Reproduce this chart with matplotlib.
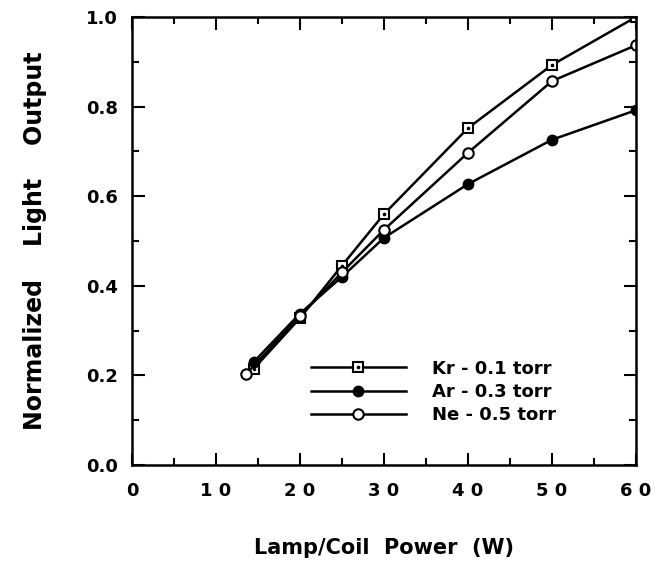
import numpy as np
import matplotlib.pyplot as plt
from matplotlib.ticker import MultipleLocator

plt.rcParams['font.family'] = ['DejaVu Sans']
plt.rcParams['font.weight'] = 'bold'

# Lamp/coil power (W) and normalized light output
kr_power = [14.5, 20, 25, 30, 40, 50, 60]
kr_light = [0.215, 0.328, 0.445, 0.560, 0.752, 0.893, 1.0]

ar_power = [14.5, 20, 25, 30, 40, 50, 60]
ar_light = [0.230, 0.338, 0.420, 0.507, 0.627, 0.726, 0.792]

ne_power = [13.6, 20, 25, 30, 40, 50, 60]
ne_light = [0.203, 0.332, 0.430, 0.525, 0.697, 0.857, 0.937]

x_ticks = [0, 10, 20, 30, 40, 50, 60]
x_ticklabels = ['0', '1 0', '2 0', '3 0', '4 0', '5 0', '6 0']
y_ticks = [0.0, 0.2, 0.4, 0.6, 0.8, 1.0]

fig = plt.figure(figsize=(6.55, 5.67), dpi=100)
ax = fig.add_axes([0.2015, 0.180, 0.7695, 0.790])

lw = 1.8
kr_line, = ax.plot(kr_power, kr_light, color='black', lw=lw, marker='s', ms=7.5,
                   mfc='white', mec='black', mew=1.5)
# little dot in the middle of the squares
kr_dot, = ax.plot(kr_power, kr_light, ls='none', marker='o', ms=1.6,
                  color='black')
ar_line, = ax.plot(ar_power, ar_light, color='black', lw=lw, marker='o', ms=7.5,
                   mfc='black', mec='black')
ne_line, = ax.plot(ne_power, ne_light, color='black', lw=lw, marker='o', ms=7.5,
                   mfc='white', mec='black', mew=1.5)

ax.set_xlim(0, 60)
ax.set_ylim(0, 1.0)
ax.set_xticks(x_ticks)
ax.set_xticklabels(x_ticklabels)
ax.set_yticks(y_ticks)
ax.set_yticklabels(['%.1f' % v for v in y_ticks])
ax.xaxis.set_minor_locator(MultipleLocator(5))
ax.yaxis.set_minor_locator(MultipleLocator(0.1))

ax.tick_params(which='both', direction='in', top=True, right=True,
               width=1.5, labelsize=13)
ax.tick_params(which='major', length=9)
ax.tick_params(which='minor', length=5)
ax.tick_params(axis='x', pad=12)
ax.tick_params(axis='y', pad=10)
for s in ax.spines.values():
    s.set_linewidth(1.8)

ax.set_xlabel('Lamp/Coil  Power  (W)', fontsize=15, fontweight='bold')
ax.set_ylabel('Normalized    Light    Output', fontsize=17, fontweight='bold')
ax.xaxis.set_label_coords(0.5, -0.163)
ax.yaxis.set_label_coords(-0.168, 0.5)

leg = ax.legend([(kr_line, kr_dot), ar_line, ne_line],
                ['Kr - 0.1 torr', 'Ar - 0.3 torr', 'Ne - 0.5 torr'],
                loc='center left', bbox_to_anchor=(0.322, 0.163), frameon=False,
                handlelength=5.3, numpoints=1, fontsize=13, labelspacing=0.3,
                handletextpad=1.45)

fig.savefig('out.png', dpi=100)
